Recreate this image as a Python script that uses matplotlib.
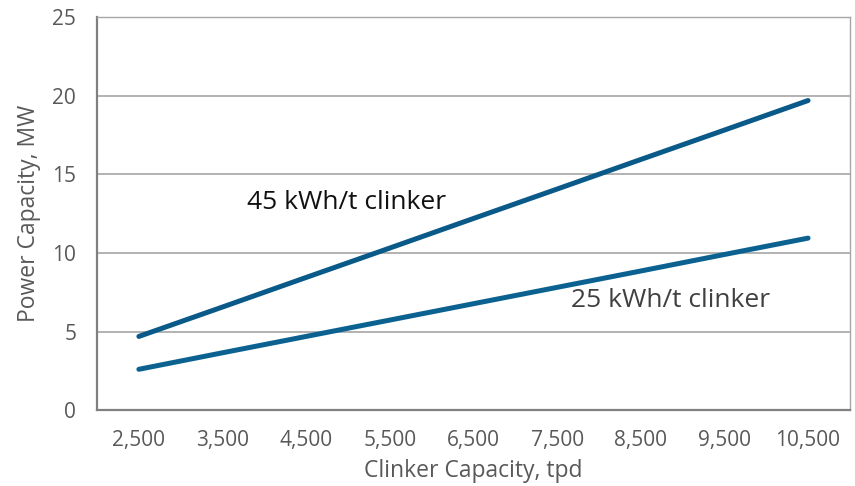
import matplotlib.pyplot as plt
import numpy as np

plt.rcParams["font.family"] = ["Open Sans", "DejaVu Sans"]

capacity_tpd = ["2,500", "3,500", "4,500", "5,500", "6,500", "7,500", "8,500", "9,500", "10,500"]
power_45 = [4.69, 6.56, 8.44, 10.31, 12.19, 14.06, 15.94, 17.81, 19.69]
power_25 = [2.60, 3.65, 4.69, 5.73, 6.77, 7.81, 8.85, 9.90, 10.94]

LINE_COLOR = "#0A5A89"
GRID_COLOR = "#A6A6A6"
TEXT_GRAY = "#595959"

fig = plt.figure(figsize=(8.55, 4.86), dpi=100)
ax = fig.add_axes([0.1135, 0.156, 0.8805, 0.809])

x = np.arange(len(capacity_tpd))
ax.plot(x, power_45, color=LINE_COLOR, linewidth=3.6, solid_capstyle="round", zorder=3)
ax.plot(x, power_25, color="#0B6290", linewidth=3.6, solid_capstyle="round", zorder=3)

ax.set_xlim(-0.5, len(capacity_tpd) - 0.5)
ax.set_ylim(0, 25)
ax.set_yticks([0, 5, 10, 15, 20, 25])
ax.set_xticks(x)
ax.set_xticklabels(capacity_tpd)
ax.grid(axis="y", color=GRID_COLOR, linewidth=1.2)
ax.set_axisbelow(True)

ax.tick_params(axis="both", length=0, labelsize=15, labelcolor=TEXT_GRAY)
ax.tick_params(axis="x", pad=14)
ax.tick_params(axis="y", pad=15)

for name, spine in ax.spines.items():
    spine.set_color("#808080")
    spine.set_linewidth(1.6 if name in ("left", "bottom") else 1.0)
ax.spines["top"].set_color(GRID_COLOR)
ax.spines["right"].set_color(GRID_COLOR)

ax.set_xlabel("Clinker Capacity, tpd", fontsize=16.5, color=TEXT_GRAY, labelpad=6)
ax.set_ylabel("Power Capacity, MW", fontsize=16.5, color=TEXT_GRAY, labelpad=8)

ax.text(1.29, 13.2, "45 kWh/t clinker", fontsize=19, color="#111111", va="center")
ax.text(5.17, 7.0, "25 kWh/t clinker", fontsize=19, color="#404040", va="center")

fig.savefig("out.png", dpi=100)
